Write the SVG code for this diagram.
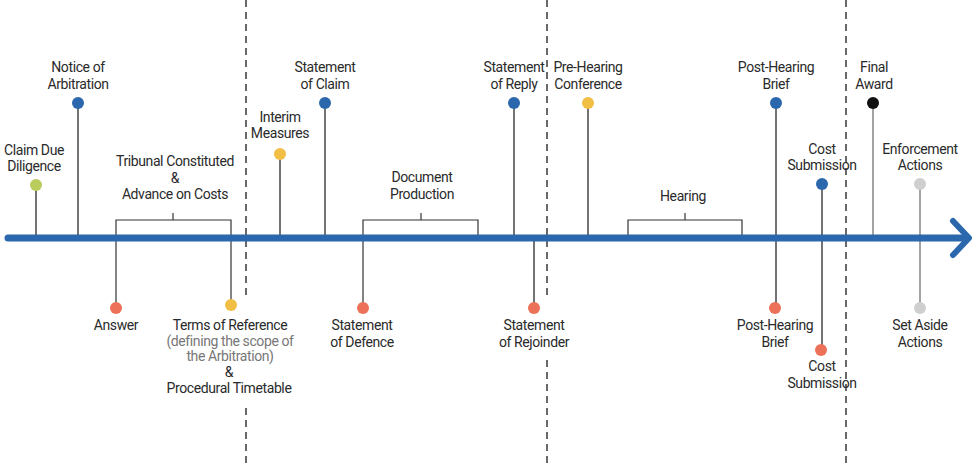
<svg xmlns="http://www.w3.org/2000/svg" width="977" height="466" viewBox="0 0 977 466">
<style>
text{font-family:Roboto,"Liberation Sans",sans-serif;font-size:14px;fill:#2a2a2a;text-anchor:middle;letter-spacing:-0.4px}
.sub{fill:#777}
.stem{stroke:#444;stroke-width:1.5;fill:none}
.stemg{stroke:#999;stroke-width:1.8;fill:none}
.br{stroke:#333;stroke-width:1.2;fill:none}
.dash{stroke:#444;stroke-width:1.6;stroke-dasharray:7,5;fill:none}
.blue{fill:#2b67ac}
.yel{fill:#f2bf45}
.red{fill:#ec7158}
.grn{fill:#b9cc5c}
.gry{fill:#cfcfcf}
.blk{fill:#111}
</style>
<rect width="977" height="466" fill="#fff"/>
<g id="phases">
<line class="dash" x1="246" y1="0" x2="246" y2="300"/>
<line class="dash" x1="246" y1="408" x2="246" y2="466"/>
<line class="dash" x1="547" y1="0" x2="547" y2="300"/>
<line class="dash" x1="547" y1="360" x2="547" y2="466"/>
<line class="dash" x1="846" y1="0" x2="846" y2="466"/>
</g>
<g id="connectors">
<line class="stem" x1="36" y1="185" x2="36" y2="238"/>
<line class="stem" x1="78" y1="103" x2="78" y2="238"/>
<polyline class="br" points="116,308 116,220 231,220 231,305"/>
<line class="br" x1="173" y1="213" x2="173" y2="220"/>
<line class="stem" x1="280" y1="154" x2="280" y2="238"/>
<line class="stem" x1="325" y1="103" x2="325" y2="238"/>
<polyline class="br" points="363,308 363,220 478,220 478,238"/>
<line class="br" x1="421" y1="213" x2="421" y2="220"/>
<line class="stem" x1="514" y1="103" x2="514" y2="238"/>
<line class="stem" x1="534" y1="238" x2="534" y2="308"/>
<line class="stem" x1="588" y1="103" x2="588" y2="238"/>
<polyline class="br" points="628,238 628,220 742,220 742,238"/>
<line class="br" x1="685" y1="213" x2="685" y2="220"/>
<line class="stem" x1="776" y1="103" x2="776" y2="308"/>
<line class="stem" x1="822" y1="184" x2="822" y2="350"/>
<line class="stemg" x1="873" y1="103" x2="873" y2="238"/>
<line class="stemg" x1="920" y1="184" x2="920" y2="308"/>
</g>
<g id="axis">
<line x1="8" y1="238" x2="966" y2="238" stroke="#2b67ac" stroke-width="7" stroke-linecap="round"/>
<polyline points="953,221 969,238 953,255" fill="none" stroke="#2b67ac" stroke-width="6" stroke-linecap="round" stroke-linejoin="round"/>
</g>
<g id="claim-due-diligence"><circle class="grn" cx="36" cy="185" r="6"/><text x="34" y="155">Claim Due</text><text x="34" y="171">Diligence</text></g>
<g id="notice-of-arbitration"><circle class="blue" cx="78" cy="103" r="6"/><text x="78" y="72">Notice of</text><text x="78" y="89">Arbitration</text></g>
<g id="tribunal-constituted"><text x="175" y="166">Tribunal Constituted</text><text x="175" y="183">&amp;</text><text x="175" y="199">Advance on Costs</text></g>
<g id="answer"><circle class="red" cx="116" cy="308" r="6"/><text x="116" y="330">Answer</text></g>
<g id="terms-of-reference"><circle class="yel" cx="231" cy="305" r="6"/><text x="230" y="330">Terms of Reference</text><text class="sub" x="230" y="346">(defining the scope of</text><text class="sub" x="230" y="361">the Arbitration)</text><text x="229" y="377">&amp;</text><text x="229" y="393">Procedural Timetable</text></g>
<g id="interim-measures"><circle class="yel" cx="280" cy="154" r="6"/><text x="280" y="122">Interim</text><text x="280" y="138">Measures</text></g>
<g id="statement-of-claim"><circle class="blue" cx="325" cy="103" r="6"/><text x="325" y="72">Statement</text><text x="325" y="89">of Claim</text></g>
<g id="statement-of-defence"><circle class="red" cx="363" cy="308" r="6"/><text x="362" y="330">Statement</text><text x="362" y="347">of Defence</text></g>
<g id="document-production"><text x="422" y="182">Document</text><text x="422" y="199">Production</text></g>
<g id="statement-of-reply"><circle class="blue" cx="514" cy="103" r="6"/><text x="514" y="72">Statement</text><text x="514" y="89">of Reply</text></g>
<g id="statement-of-rejoinder"><circle class="red" cx="534" cy="308" r="6"/><text x="534" y="330">Statement</text><text x="534" y="347">of Rejoinder</text></g>
<g id="pre-hearing-conference"><circle class="yel" cx="588" cy="103" r="6"/><text x="588" y="72">Pre-Hearing</text><text x="588" y="89">Conference</text></g>
<g id="hearing"><text x="683" y="201">Hearing</text></g>
<g id="post-hearing-brief"><circle class="blue" cx="776" cy="103" r="6"/><text x="776" y="72">Post-Hearing</text><text x="776" y="89">Brief</text></g>
<g id="post-hearing-brief-reply"><circle class="red" cx="775" cy="308" r="6"/><text x="775" y="330">Post-Hearing</text><text x="775" y="347">Brief</text></g>
<g id="cost-submission"><circle class="blue" cx="822" cy="184" r="6"/><text x="822" y="154">Cost</text><text x="822" y="170">Submission</text></g>
<g id="cost-submission-reply"><circle class="red" cx="821" cy="350" r="6"/><text x="822" y="371">Cost</text><text x="822" y="388">Submission</text></g>
<g id="final-award"><circle class="blk" cx="873" cy="103" r="6"/><text x="874" y="72">Final</text><text x="874" y="89">Award</text></g>
<g id="enforcement-actions"><circle class="gry" cx="920" cy="184" r="6"/><text x="920" y="154">Enforcement</text><text x="920" y="170">Actions</text></g>
<g id="set-aside-actions"><circle class="gry" cx="920" cy="308" r="6"/><text x="920" y="330">Set Aside</text><text x="920" y="347">Actions</text></g>
</svg>
